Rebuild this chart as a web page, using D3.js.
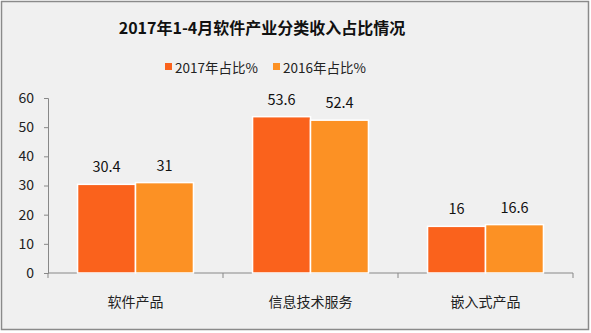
<!DOCTYPE html>
<html><head><meta charset="utf-8">
<script src="https://cdn.jsdelivr.net/npm/d3@7"></script>
<style>body{margin:0;background:#fff}svg{display:block}text{font-family:"Noto Sans CJK SC","Noto Sans",sans-serif}</style>
</head><body><svg id="c" width="591" height="333"></svg>
<script>
const categories = ["软件产品", "信息技术服务", "嵌入式产品"];
const seriesNames = ["2017年占比%", "2016年占比%"];
const values2017 = [30.4, 53.6, 16];
const values2016 = [31, 52.4, 16.6];
const yTicks = [0, 10, 20, 30, 40, 50, 60];
const title = "2017年1-4月软件产业分类收入占比情况";
const colors = ["#FA621C", "#FC9124"];

const svg = d3.select("#c");
svg.append("rect").attr("x",1.5).attr("y",1.5).attr("width",587).attr("height",328)
  .attr("fill","#f0f0f0").attr("stroke","#8a8a8a").attr("stroke-width",1.5);

svg.append("text").attr("x",262).attr("y",34).attr("text-anchor","middle")
  .attr("font-size",16).attr("font-weight","bold").attr("fill","#111").text(title);

// legend
const legX = [165, 273];
seriesNames.forEach((n,i)=>{
  svg.append("rect").attr("x",legX[i]).attr("y",63).attr("width",7).attr("height",7).attr("fill",colors[i]);
  svg.append("text").attr("x",legX[i]+10).attr("y",73).attr("font-size",13.5).attr("fill","#222").text(n);
});

const x = d3.scaleBand().domain(categories).range([48, 573]).paddingInner(0).paddingOuter(0);
const y = d3.scaleLinear().domain([0, 60]).range([273, 98]);
const xs = d3.scaleBand().domain([0,1]).range([0, x.bandwidth()]).paddingInner(0).paddingOuter(0.51);

// y axis
const ya = svg.append("g").attr("transform","translate(48,0)")
  .call(d3.axisLeft(y).tickValues(yTicks).tickSize(4).tickPadding(10));
ya.selectAll("text").attr("font-size",14).attr("fill","#222");
ya.selectAll("line,path").attr("stroke","#888");

// x axis
const xa = svg.append("g").attr("transform","translate(0,273)");
xa.append("line").attr("x1",48).attr("x2",573).attr("stroke","#888");
const bounds = categories.map(c=>x(c)).concat([x(categories[2])+x.bandwidth()]);
xa.selectAll(".t").data(bounds).join("line").attr("x1",d=>d).attr("x2",d=>d).attr("y1",0).attr("y2",5).attr("stroke","#888");
xa.selectAll(".l").data(categories).join("text").attr("x",d=>x(d)+x.bandwidth()/2).attr("y",34)
  .attr("text-anchor","middle").attr("font-size",14).attr("fill","#222").text(d=>d);

const series = [values2017, values2016];
series.forEach((vals,si)=>{
  const g = svg.append("g");
  g.selectAll("rect").data(vals).join("rect")
    .attr("x",(d,i)=>x(categories[i])+xs(si)).attr("width",xs.bandwidth())
    .attr("y",d=>y(d)).attr("height",d=>y(0)-y(d))
    .attr("fill",colors[si]).attr("stroke","#fff").attr("stroke-width",1.5);
  g.selectAll("text").data(vals).join("text")
    .attr("x",(d,i)=>x(categories[i])+xs(si)+xs.bandwidth()/2).attr("y",d=>y(d)-12)
    .attr("text-anchor","middle").attr("font-size",14.5).attr("fill","#111").text(d=>d);
});
</script></body></html>
